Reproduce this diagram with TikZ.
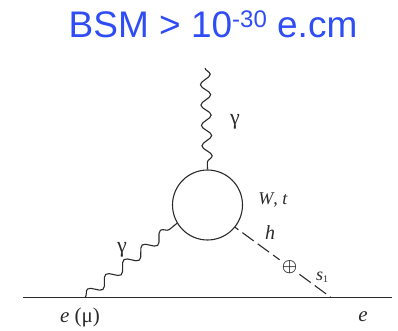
\documentclass[tikz,border=0pt]{standalone}
\usepackage{amsmath,amssymb}
\usepackage{fontspec}
\setmainfont{Liberation Serif}
\newfontfamily\titlefont{Liberation Sans}
\usetikzlibrary{decorations.pathmorphing}
\definecolor{mTitle}{HTML}{2F4DF5}
\definecolor{mInk}{HTML}{2A2A2A}
\tikzset{
  photon/.style={mInk,line width=1.1pt,decorate,decoration={snake,amplitude=5pt,segment length=20.4pt}},
  photonlong/.style={photon,decoration={snake,amplitude=5pt,segment length=23.4pt}},
  fermion/.style={mInk,line width=1.1pt},
  scalar/.style={mInk,line width=1.1pt,dash pattern=on 14pt off 5pt},
  lbl/.style={mInk,font=\fontsize{18}{18}\selectfont,inner sep=0pt}
}
\begin{document}
\begin{tikzpicture}[x=1pt,y=1pt]
  \useasboundingbox (0,0) rectangle (398,331);
  \node[mTitle,font=\fontsize{37}{37}\titlefont,inner sep=0pt,anchor=base] (title) at (213,293) {BSM > 10\raisebox{10pt}{\fontsize{24}{24}\selectfont -30} e.cm};
  % loop and vertices
  \node[fermion,draw,circle,minimum size=70pt,inner sep=0pt] (loop) at (207.5,126) {};
  \coordinate (in) at (23,33.5);
  \coordinate (out) at (392,33.5);
  \coordinate (vl) at (85,33.5);
  \coordinate (vr) at (331,33.5);
  \coordinate (top) at (205,263);
  \node[mInk,inner sep=2pt,font=\fontsize{19}{19}\selectfont] (cross) at (289.5,64) {$\boldsymbol{\oplus}$};
  \draw[fermion] (in) -- (out);
  \draw[photon] (top) -- (loop.north);
  \draw[photonlong] (vl) -- (loop.211);
  \draw[scalar,dash phase=10pt] (loop.-39) -- (cross);
  \draw[scalar] (cross) -- (vr);
  % labels
  \node[lbl] (g1) at (235,209) {\fontsize{22}{22}\selectfont γ};
  \node[lbl] (g2) at (122,81) {\fontsize{22}{22}\selectfont γ};
  \node[lbl] (wt) at (273,131) {\textit{W}, \textit{t}};
  \node[lbl] (hl) at (270,98) {\fontsize{20}{20}\selectfont\textit{h}};
  \node[lbl] (sl) at (322,54) {\textit{s}\raisebox{-2pt}{\fontsize{10}{10}\selectfont 1}};
  \node[lbl] (el) at (80,14) {\fontsize{21}{21}\selectfont\textit{e} (μ)};
  \node[lbl] (er) at (363,14) {\fontsize{21}{21}\selectfont\textit{e}};
\end{tikzpicture}
\end{document}
